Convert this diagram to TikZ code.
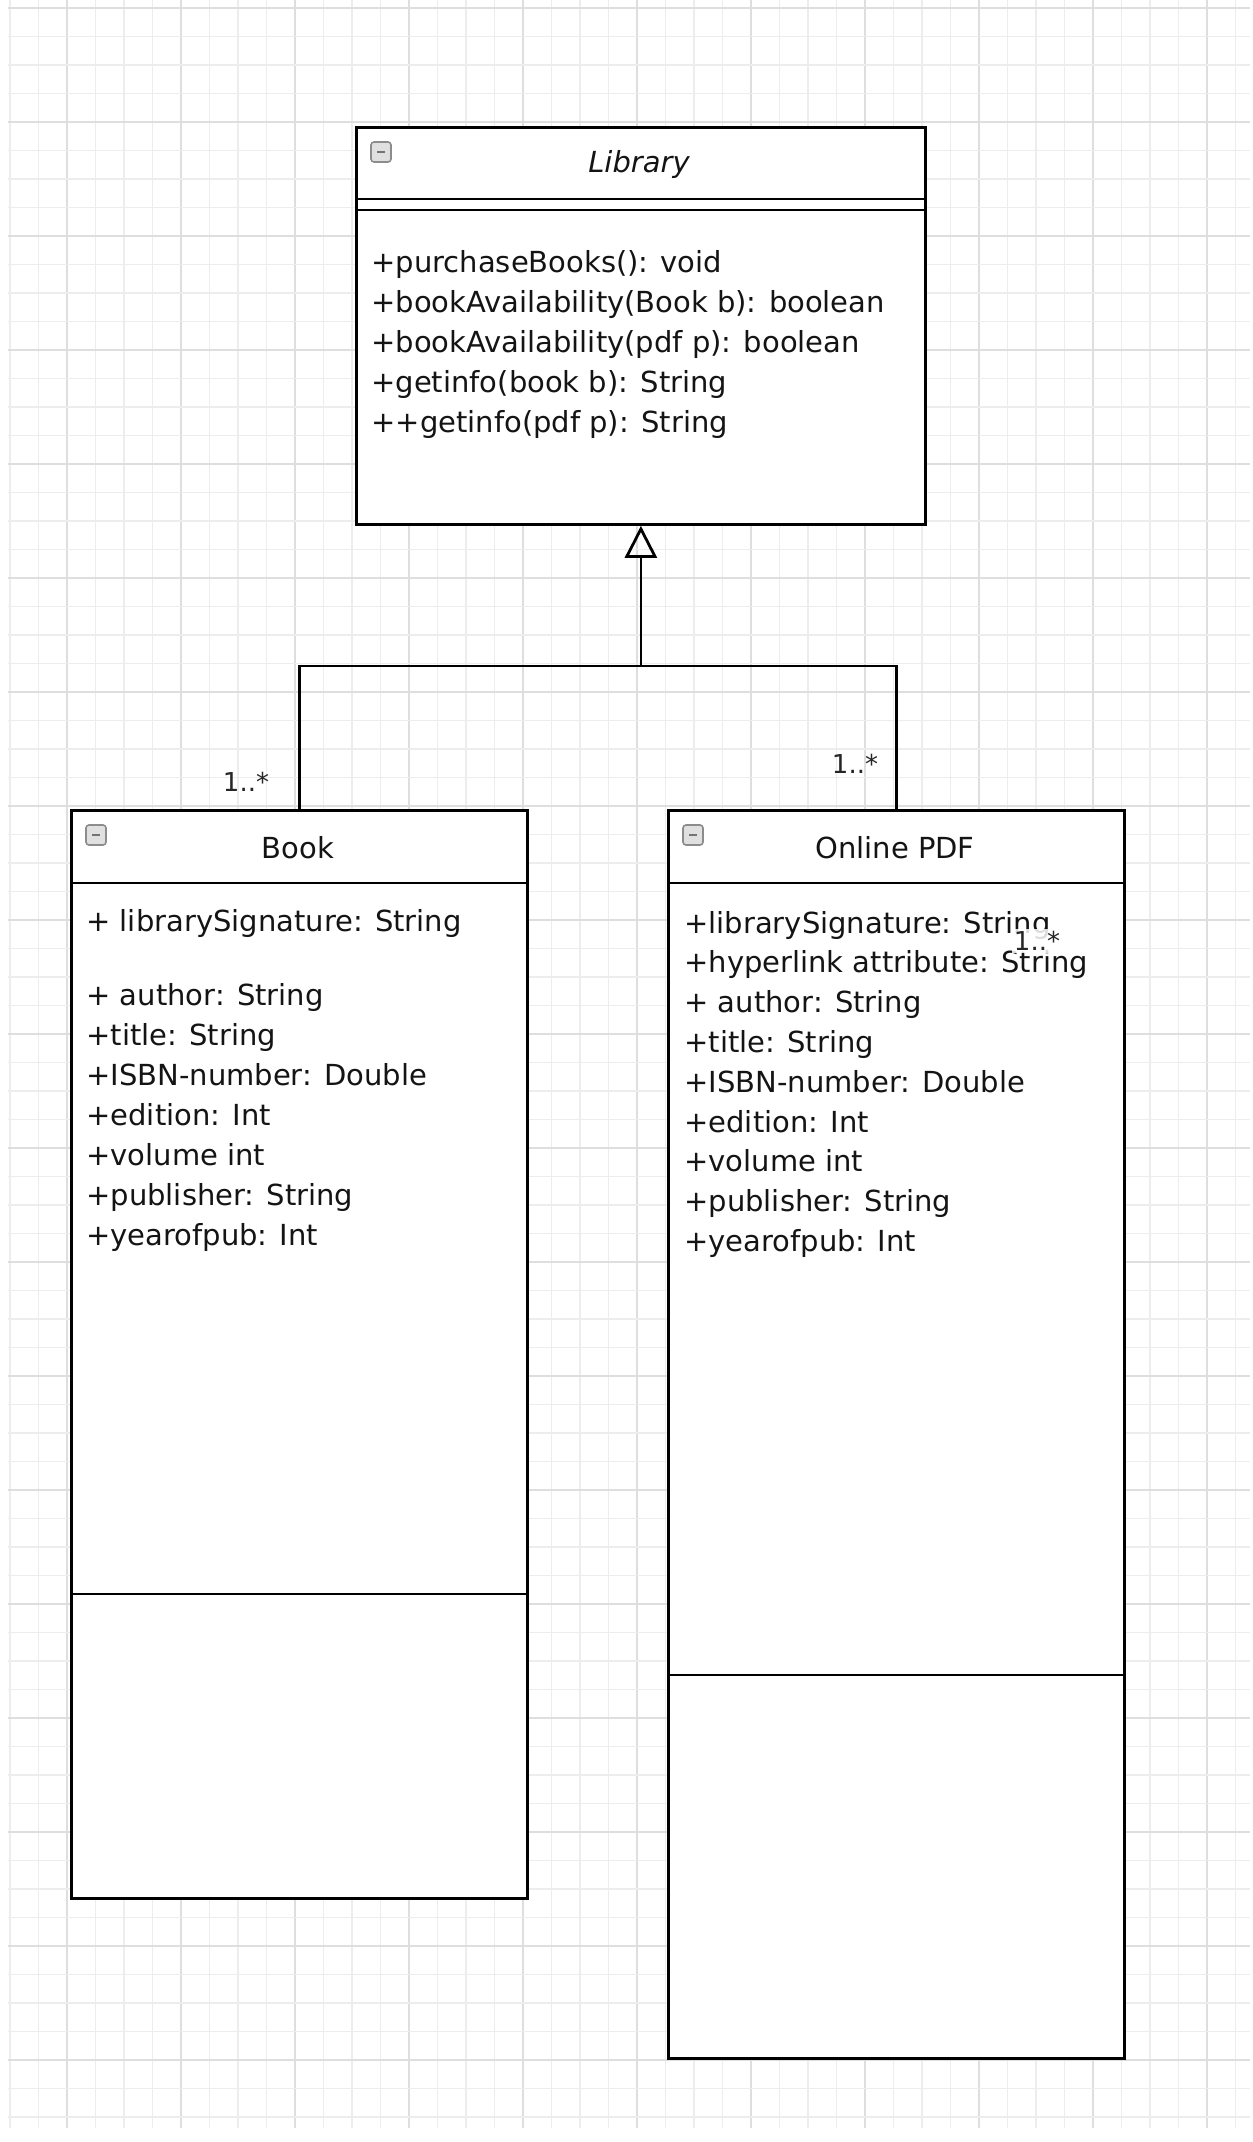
\documentclass[tikz,border=0pt]{standalone}
\usepackage{fontspec}
\setmainfont{DejaVu Sans}
\usetikzlibrary{arrows.meta}
\begin{document}
\begin{tikzpicture}[x=0.5pt,y=-0.5pt,
  classbox/.style={draw=black, line width=1.4pt, fill=white, inner sep=0pt, anchor=north west},
  sepline/.style={draw=black, line width=1.4pt},
  txt/.style={anchor=base west, inner sep=0pt, font=\fontsize{14.5}{20}\selectfont, text=black!92},
  title/.style={inner sep=0pt, font=\fontsize{14.5}{20}\selectfont, text=black!92},
  mult/.style={inner sep=1pt, font=\fontsize{13}{16}\selectfont, text=black!85},
  minor/.style={draw=black!7, line width=0.6pt},
  major/.style={draw=black!13, line width=0.7pt},
  icon/.style={draw=black!45, fill=black!12, rounded corners=1.5pt, line width=0.8pt, minimum size=10pt, inner sep=0pt},
  gen/.style={draw=black, line width=1.4pt}
]
\useasboundingbox (0,0) rectangle (1253,2142);
\fill[white] (0,0) rectangle (1253,2142);
% grid
\foreach \k in {-2,...,41} {
  \pgfmathsetmacro{\gx}{67+28.5*\k}
  \pgfmathtruncatemacro{\mm}{mod(\k+8,4)}
  \ifnum\mm=0 \draw[major] (\gx,0) -- (\gx,2128); \else \draw[minor] (\gx,0) -- (\gx,2128); \fi
}
\foreach \k in {0,...,74} {
  \pgfmathsetmacro{\gy}{8+28.5*\k}
  \pgfmathtruncatemacro{\mm}{mod(\k,4)}
  \ifnum\mm=0 \draw[major] (8,\gy) -- (1250,\gy); \else \draw[minor] (8,\gy) -- (1250,\gy); \fi
}

% Library
\node[classbox, minimum width=284.5pt, minimum height=198.5pt] (lib) at (355,126) {};
\draw[sepline] (355,199) -- (924,199);
\draw[sepline] (355,210) -- (924,210);
\node[icon] (libicon) at (381,152) {};
\draw[black!55, line width=0.8pt] (377,152) -- (385,152);
\node[title, font=\fontsize{14.5}{20}\selectfont\itshape] (libtitle) at (639,164) {Library};
\foreach \t [count=\i from 0] in {{+purchaseBooks(): void},{+bookAvailability(Book b): boolean},{+bookAvailability(pdf p): boolean},{+getinfo(book b): String},{++getinfo(pdf p): String}}
  \node[txt] (libm\i) at (371,{272+40*\i}) {\t};

% Book
\node[classbox, minimum width=228pt, minimum height=544pt] (book) at (70,809) {};
\draw[sepline] (70,883) -- (526,883);
\draw[sepline] (70,1594) -- (526,1594);
\node[icon] (bookicon) at (96,835) {};
\draw[black!55, line width=0.8pt] (92,835) -- (100,835);
\node[title] (booktitle) at (298,848) {Book};
\node[txt] (booka0) at (86,931) {+ librarySignature: String};
\foreach \t [count=\i from 1] in {{+ author: String},{+title: String},{+ISBN-number: Double},{+edition: Int},{+volume int},{+publisher: String},{+yearofpub: Int}}
  \node[txt] (booka\i) at (86,{965+40*\i}) {\t};

% Online PDF
\node[classbox, minimum width=228pt, minimum height=624pt] (pdf) at (667,809) {};
\draw[sepline] (667,883) -- (1123,883);
\draw[sepline] (667,1675) -- (1123,1675);
\node[icon] (pdficon) at (693,835) {};
\draw[black!55, line width=0.8pt] (689,835) -- (697,835);
\node[title] (pdftitle) at (895,848) {Online PDF};
\foreach \t [count=\i from 0] in {{+librarySignature: String},{+hyperlink attribute: String},{+ author: String},{+title: String},{+ISBN-number: Double},{+edition: Int},{+volume int},{+publisher: String},{+yearofpub: Int}}
  \node[txt] (pdfa\i) at (684,{933+39.8*\i}) {\t};

% generalization
\coordinate (jn) at (lib.south |- 0,666);
\draw[gen] (pdf.north) |- (jn);
\draw[gen, -{Triangle[open, length=16pt, width=16pt, line width=1.4pt]}] (book.north) |- (jn) -- (lib.south);

% multiplicities
\node[mult] (m1) at (246,782) {1..*};
\node[mult] (m2) at (855,764) {1..*};
\node[mult, fill=white, fill opacity=0.85, text opacity=1] (m3) at (1037,941) {1..*};
\end{tikzpicture}
\end{document}
